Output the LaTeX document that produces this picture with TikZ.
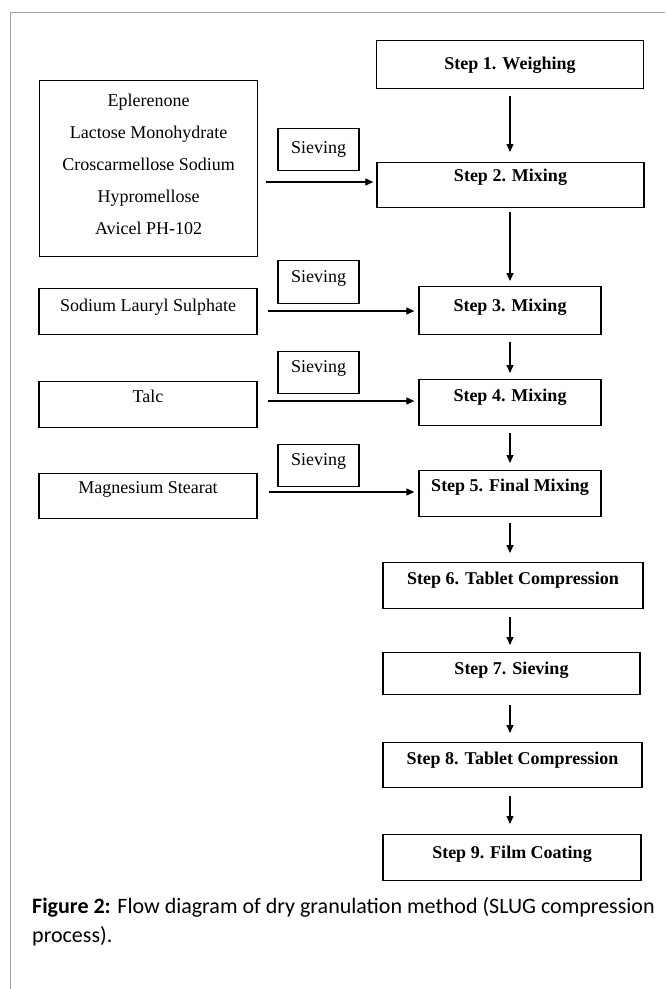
\documentclass[tikz,border=0pt]{standalone}
\usepackage{fontspec}
\setmainfont{Liberation Serif}
\newfontfamily\capfont{Carlito}
\usetikzlibrary{arrows.meta}
\definecolor{framegray}{HTML}{A0A0A0}
\tikzset{
  boxbase/.style={draw=black, line width=1.3pt, inner sep=0pt, anchor=north, font=\fontsize{18pt}{21pt}\selectfont},
  stepbox/.style={boxbase, font=\fontsize{18pt}{21pt}\selectfont\bfseries},
  matbox/.style={boxbase, minimum width=218pt},
  sievebox/.style={boxbase, minimum width=81pt},
  th/.style 2 args={text height=#1pt, text depth=#2pt},
  arr/.style={line width=1.1pt, -{Triangle[length=8pt,width=7pt]}},
}
\begin{document}
\begin{tikzpicture}[x=1pt,y=-1pt]
\useasboundingbox (0,0) rectangle (665,989);
% frame
\draw[framegray, line width=1.5pt] (10.5,989) -- (10.5,12.5) -- (665,12.5);

% steps
\node[stepbox, minimum width=267pt, th={29}{19}] (s1) at (510,40) {Step 1. Weighing};
\node[stepbox, minimum width=267pt, th={19}{26}] (s2) at (510.5,162) {Step 2. Mixing};
\node[stepbox, minimum width=182pt, th={25}{23}] (s3) at (510,286) {Step 3. Mixing};
\node[stepbox, minimum width=182pt, th={22}{24}] (s4) at (510,379) {Step 4. Mixing};
\node[stepbox, minimum width=182pt, th={21}{25}] (s5) at (510,470) {Step 5. Final Mixing};
\node[stepbox, minimum width=260pt, th={22}{24}] (s6) at (513,562) {Step 6. Tablet Compression};
\node[stepbox, minimum width=257pt, th={22}{20}] (s7) at (511.5,652) {Step 7. Sieving};
\node[stepbox, minimum width=259pt, th={22}{23}] (s8) at (512.5,742) {Step 8. Tablet Compression};
\node[stepbox, minimum width=258pt, th={24}{22}] (s9) at (512,834) {Step 9. Film Coating};

% materials
\node[matbox, anchor=north west] (ing) at (39,80) {\parbox[b][176pt][t]{218pt}{\centering\fontsize{18pt}{32pt}\selectfont
  \rule{0pt}{26pt}Eplerenone\\Lactose Monohydrate\\Croscarmellose Sodium\\Hypromellose\\Avicel PH-102}};
\node[matbox, th={23}{23}] (sls) at (148,288) {Sodium Lauryl Sulphate};
\node[matbox, th={21}{25}] (talc) at (148,381) {Talc};
\node[matbox, th={20}{25}] (mgst) at (148,473) {Magnesium Stearat};

% sieving labels
\node[sievebox, th={25}{17}] (sv1) at (318.5,128) {Sieving};
\node[sievebox, th={22}{21}] (sv2) at (318.5,260) {Sieving};
\node[sievebox, th={21}{21}] (sv3) at (318.5,351) {Sieving};
\node[sievebox, th={21}{21}] (sv4) at (318.5,444) {Sieving};

% horizontal arrows
\draw[arr, shorten <=8pt, shorten >=3pt] (ing.east |- 0,182) -- (s2.west |- 0,182);
\draw[arr, shorten <=10pt, shorten >=4pt] (sls.east |- 0,311) -- (s3.west |- 0,311);
\draw[arr, shorten <=10pt, shorten >=4pt] (talc.east |- 0,401) -- (s4.west |- 0,401);
\draw[arr, shorten <=11pt, shorten >=4pt] (mgst.east |- 0,492) -- (s5.west |- 0,492);

% vertical arrows
\draw[arr, shorten <=7pt, shorten >=10pt] (s1.south) -- (s1.south |- s2.north);
\draw[arr, shorten <=4pt, shorten >=5pt] (s2.south -| s1.south) -- (s1.south |- s3.north);
\draw[arr, shorten <=7pt, shorten >=6pt] (s3.south) -- (s3.south |- s4.north);
\draw[arr, shorten <=7pt, shorten >=7pt] (s4.south) -- (s4.south |- s5.north);
\draw[arr, shorten <=6pt, shorten >=9pt] (s5.south) -- (s5.south |- s6.north);
\draw[arr, shorten <=8pt, shorten >=7pt] (s6.south -| s5.south) -- (s5.south |- s7.north);
\draw[arr, shorten <=10pt, shorten >=9pt] (s7.south -| s5.south) -- (s5.south |- s8.north);
\draw[arr, shorten <=8pt, shorten >=10pt] (s8.south -| s5.south) -- (s5.south |- s9.north);

% caption
\node[anchor=base west, inner sep=0pt, font=\capfont\fontsize{22pt}{29pt}\selectfont] (cap1) at (32,913) {\textbf{Figure 2:} Flow diagram of dry granulation method (SLUG compression};
\node[anchor=base west, inner sep=0pt, font=\capfont\fontsize{22pt}{29pt}\selectfont] (cap2) at (32,942) {process).};
\end{tikzpicture}
\end{document}
